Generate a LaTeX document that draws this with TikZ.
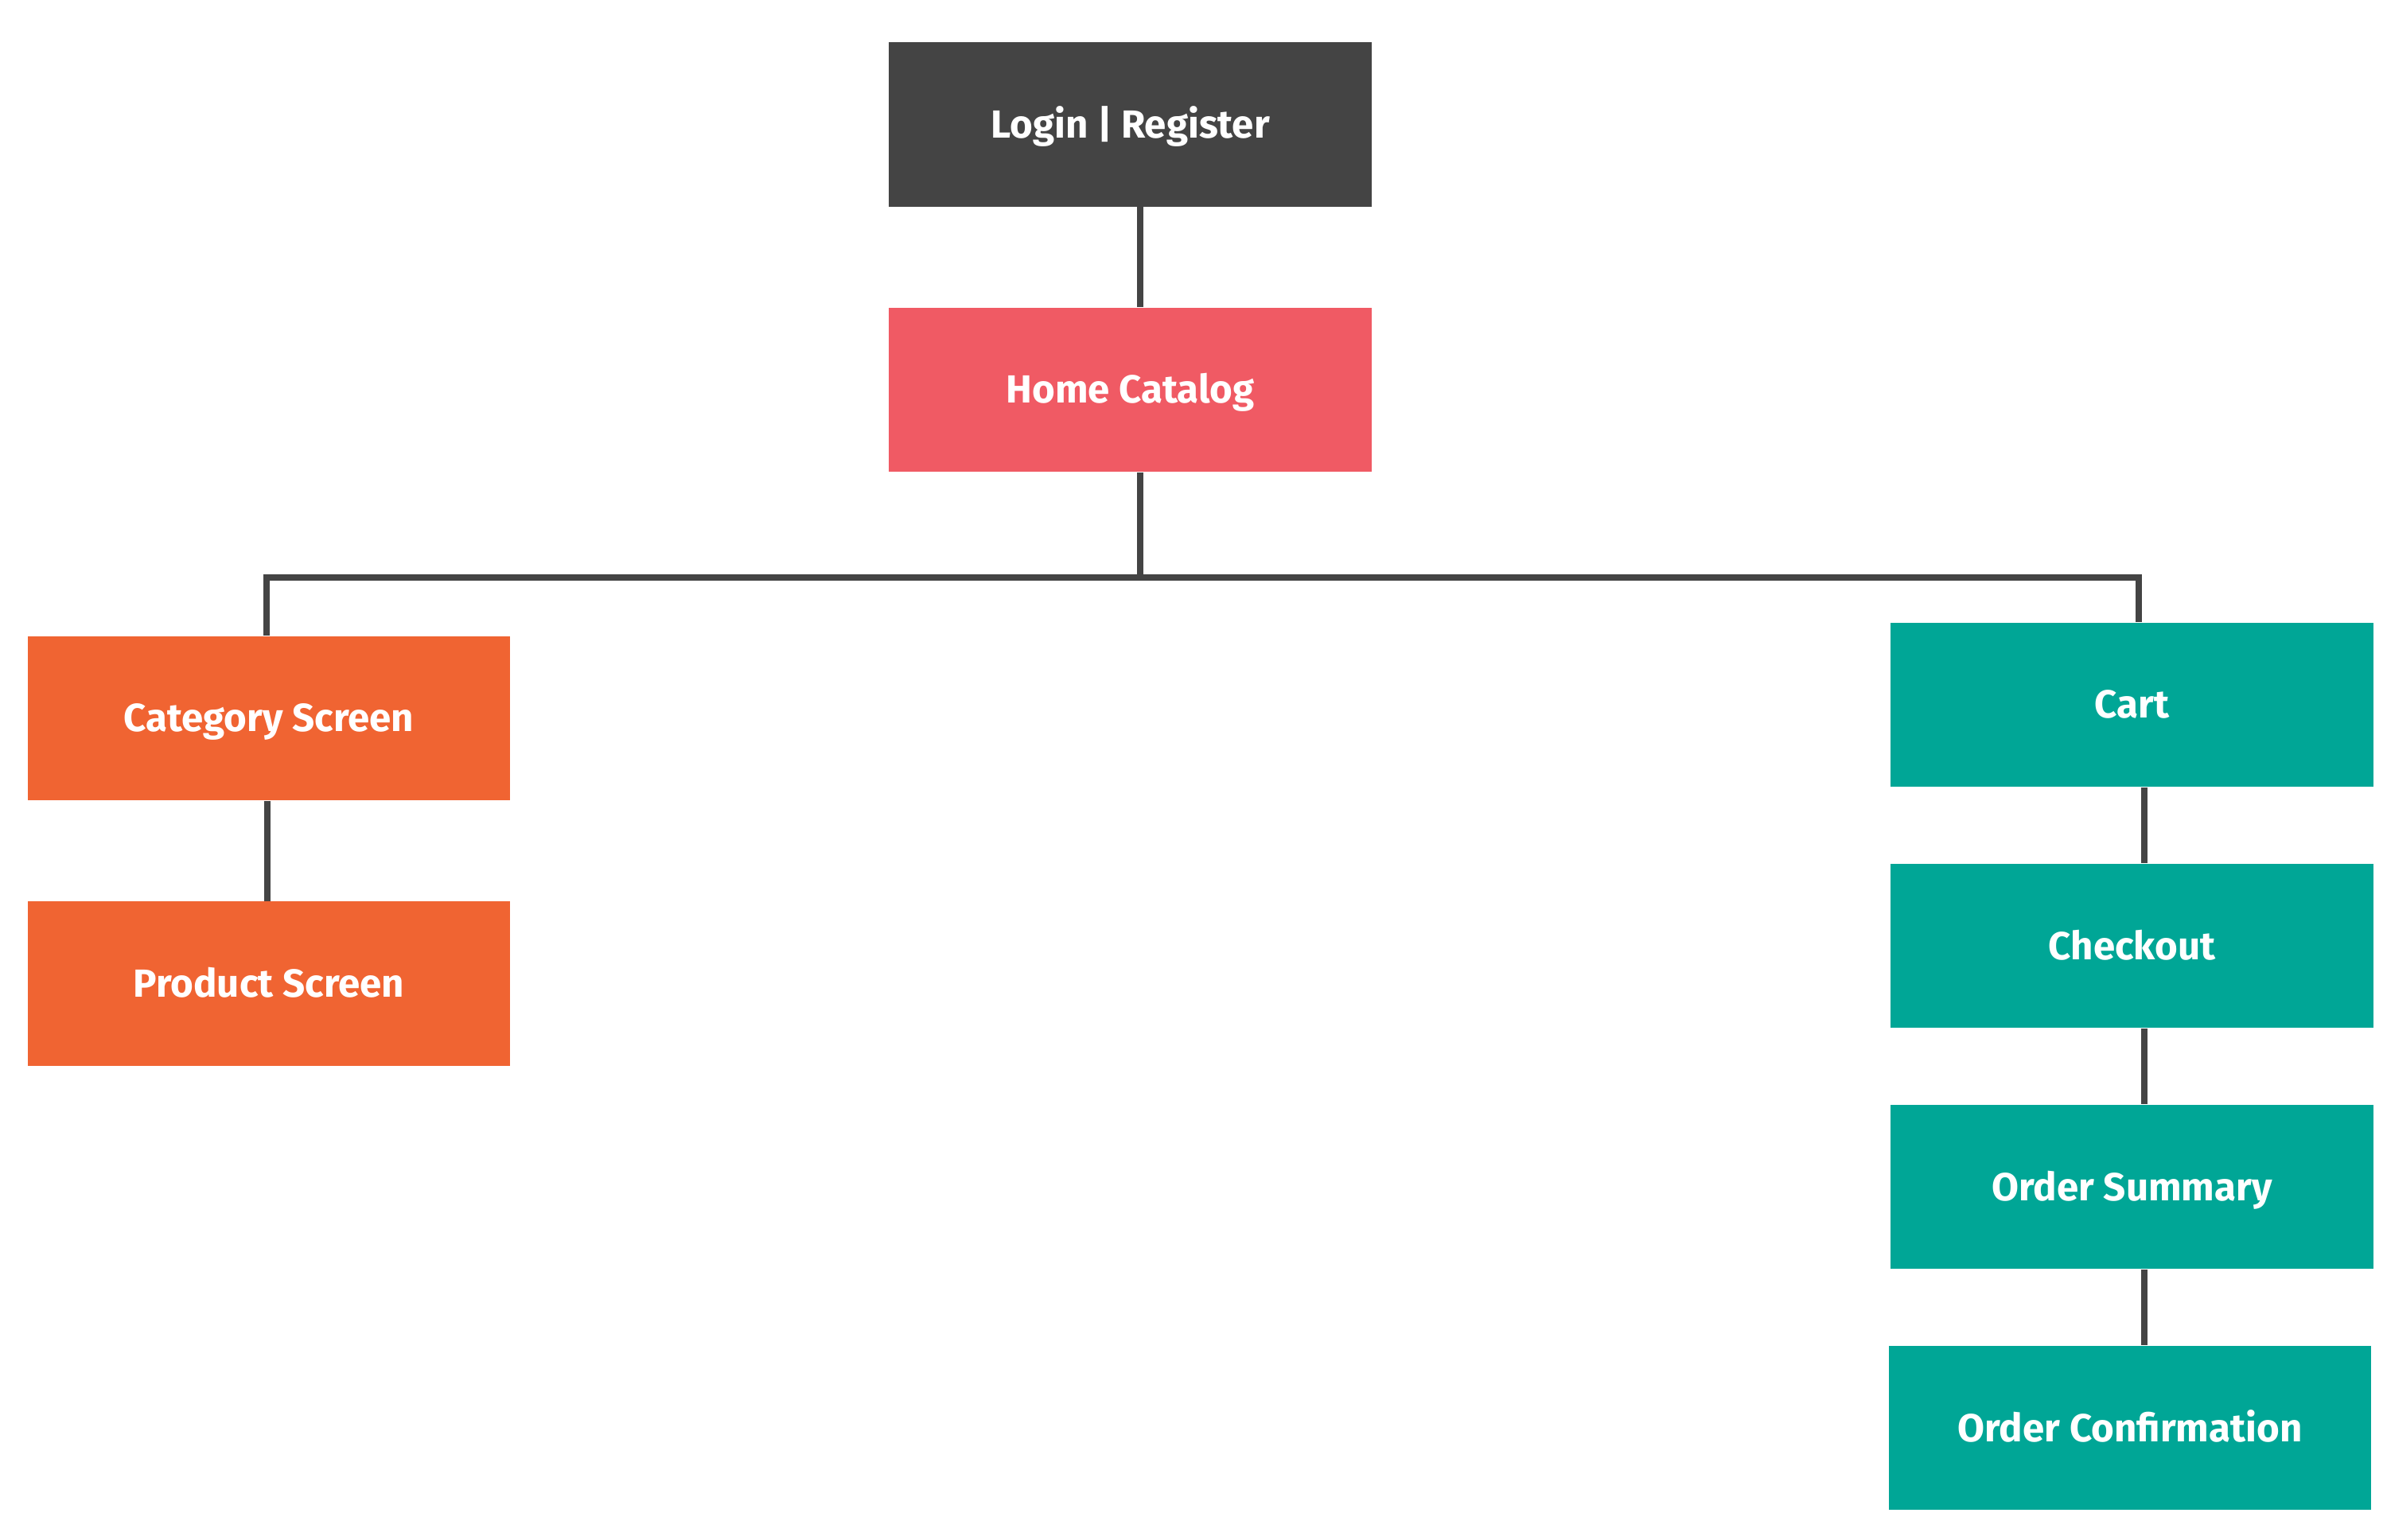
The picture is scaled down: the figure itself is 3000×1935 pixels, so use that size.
\documentclass[tikz,border=0pt]{standalone}
\usepackage{fontspec}
\setmainfont{Fira Sans}
\definecolor{cdark}{HTML}{444444}
\definecolor{cred}{HTML}{F05A64}
\definecolor{corange}{HTML}{F06432}
\definecolor{cteal}{HTML}{00A696}
\definecolor{cline}{HTML}{444444}
\begin{document}
\begin{tikzpicture}[x=0.01cm,y=-0.01cm,
  box/.style={rectangle, inner sep=0pt, minimum width=6.06cm, minimum height=2.06cm, text=white, text height=9.65pt, text depth=0pt, font=\fontsize{14pt}{16pt}\selectfont\bfseries},
  conn/.style={draw=cline, line width=0.08cm}]
\useasboundingbox (0,0) rectangle (3000,1935);
\node[box, fill=cdark] (login) at (1420.5,156.5) {Login | Register};
\node[box, fill=cred] (home) at (1420.5,490) {Home Catalog};
\node[box, fill=corange] (cat) at (338,903) {Category Screen};
\node[box, fill=corange] (prod) at (338,1236.5) {Product Screen};
\node[box, fill=cteal] (cart) at (2679.5,886) {Cart};
\node[box, fill=cteal] (check) at (2679.5,1189) {Checkout};
\node[box, fill=cteal] (summ) at (2679.5,1492) {Order Summary};
\node[box, fill=cteal] (conf) at (2677,1795) {Order Confirmation};
\coordinate (bus) at (1433,726);
\coordinate (rx) at (2695,0);
\draw[conn] (login.south -| bus) -- (home.north -| bus);
\draw[conn] (home.south -| bus) -- (bus);
\draw[conn] (bus) -| ([xshift=-0.03cm]cat.north);
\draw[conn] (bus) -| ([xshift=0.085cm]cart.north);
\draw[conn] ([xshift=-0.02cm]cat.south) -- ([xshift=-0.02cm]prod.north);
\draw[conn] (cart.south -| rx) -- (check.north -| rx);
\draw[conn] (check.south -| rx) -- (summ.north -| rx);
\draw[conn] (summ.south -| rx) -- (conf.north -| rx);
\end{tikzpicture}
\end{document}
